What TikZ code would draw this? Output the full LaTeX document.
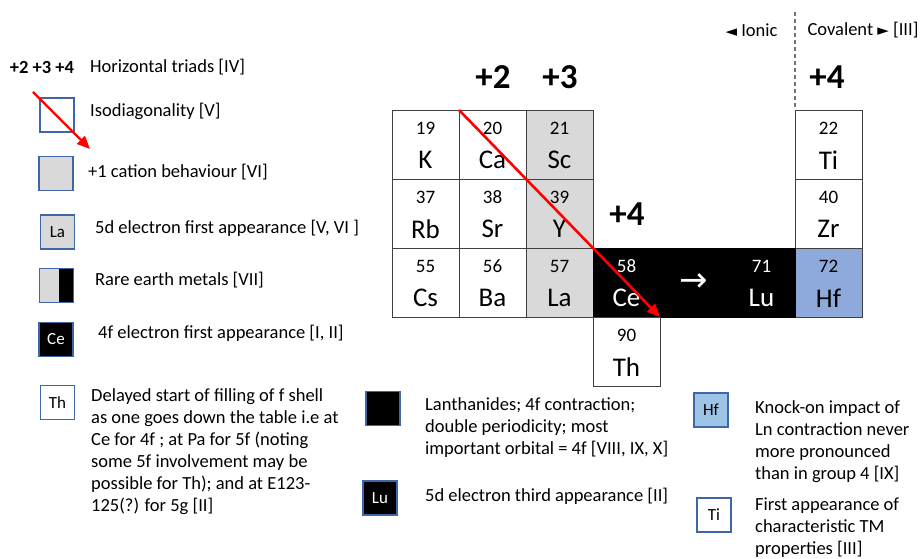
\documentclass[tikz,border=0pt]{standalone}
\usepackage{fontspec}
\setmainfont{Carlito}
\newfontfamily\dejavu{DejaVu Sans}
\usetikzlibrary{arrows.meta}
\definecolor{keyblue}{HTML}{3F66A6}
\definecolor{hfblue}{HTML}{8EA9DB}
\definecolor{hfkey}{HTML}{9DC3E6}
\definecolor{rarefill}{HTML}{D9D9D9}
\tikzset{
  cell/.style={draw=black!75, minimum width=67pt, minimum height=69pt, inner sep=0pt, outer sep=0pt},
  num/.style={font=\fontsize{19}{19}\selectfont, inner sep=0pt},
  sym/.style={font=\fontsize{27}{27}\selectfont, inner sep=0pt},
  ox/.style={font=\bfseries\fontsize{35}{35}\selectfont},
  key/.style={draw=keyblue, line width=1.2pt, minimum width=34pt, minimum height=34pt, inner sep=0pt, font=\fontsize{17}{17}\selectfont},
  legtext/.style={anchor=west, inner sep=0pt, font=\fontsize{18.5}{22}\selectfont, align=left},
  legpara/.style={anchor=north west, inner sep=0pt, font=\fontsize{18.5}{22}\selectfont, align=left},
  redarrow/.style={draw=red, line width=2.6pt, -{Triangle[length=13pt,width=11pt]}}
}
\begin{document}
\begin{tikzpicture}[x=1pt,y=-1pt]
\useasboundingbox (0,0) rectangle (921,559);
%Table cells
\foreach \n/\x/\y/\z/\s/\f in {K/425.5/144.5/19/K/white, Ca/492.5/144.5/20/Ca/white,
    Sc/559.5/144.5/21/Sc/rarefill, Rb/425.5/213.5/37/Rb/white, Sr/492.5/213.5/38/Sr/white,
    Y/559.5/213.5/39/Y/rarefill, Cs/425.5/282.5/55/Cs/white, Ba/492.5/282.5/56/Ba/white,
    La/559.5/282.5/57/La/rarefill, Th/626.5/351.5/90/Th/white, Ti/828.5/144.5/22/Ti/white,
    Zr/828.5/213.5/40/Zr/white, Hf/828.5/282.5/72/Hf/hfblue} {
  \node[cell, fill=\f] (\n) at (\x,\y) {};
  \node[num] (\n-z) at ([yshift=-18pt]\n.north) {\z};
  \node[sym] (\n-s) at ([yshift=-50pt]\n.north) {\s};
}
%Lanthanide band
\node[cell, fill=black, draw=black, text=white] (to) at (694,282.5) {\dejavu\fontsize{34}{34}\selectfont →};
\foreach \n/\x/\z in {Ce/626.5/58, Lu/761.5/71} {
  \node[cell, fill=black, draw=black] (\n) at (\x,282.5) {};
  \node[num, text=white] (\n-z) at ([yshift=-18pt]\n.north) {\z};
  \node[sym, text=white] (\n-s) at ([yshift=-50pt]\n.north) {\n};
}
\draw[black!75] (Th.north west) rectangle (Th.south east);
%Oxidation states
\node[ox] (p2) at (493,77) {+2};
\node[ox] (p3) at (560,77) {+3};
\node[ox] (p4a) at (627,214) {+4};
\node[ox] (p4b) at (827,77) {+4};
%Ionic / covalent
\coordinate (dtop) at (795,12);
\draw[black!55, line width=1.3pt, dash pattern=on 4pt off 3pt] (dtop) -- (Ti.north west);
\node[anchor=east, font=\fontsize{18.5}{18.5}\selectfont] (ionic) at (781,30) {{\dejavu\fontsize{15}{15}\selectfont ◄} Ionic};
\node[anchor=west, font=\fontsize{18.5}{18.5}\selectfont] (cov) at (804,30) {Covalent {\dejavu\fontsize{15}{15}\selectfont ►} [III]};
%Isodiagonal arrow
\draw[redarrow] (Ca.north west) -- (Th.north east);
%Legend
\node[font=\bfseries\fontsize{18.5}{18.5}\selectfont] (trio) at (42,67) {+2 +3 +4};
\node[legtext] (trio-t) at (90,67) {Horizontal triads [IV]};
\node[key] (kIso) at (57,115) {};
\coordinate (kArrA) at (33,92);
\coordinate (kArrB) at (90,149);
\draw[redarrow, line width=2.4pt] (kArrA) -- (kArrB);
\node[legtext] (kIso-t) at (90,111) {Isodiagonality [V]};
\node[key, fill=rarefill] (kCat) at (56,173.5) {};
\node[legtext] (kCat-t) at (88,172) {+1 cation behaviour [VI]};
\node[key, fill=rarefill] (kLa) at (57.5,232) {La};
\node[legtext] (kLa-t) at (95,228) {5d electron first appearance [V, VI ]};
\node[key, fill=rarefill, path picture={\fill[black] ([xshift=2pt]path picture bounding box.north) rectangle (path picture bounding box.south east);}] (kRare) at (56.5,285.5) {};
\node[legtext] (kRare-t) at (95,280) {Rare earth metals [VII]};
\node[key, fill=black, text=white] (kCe) at (56,339.5) {Ce};
\node[legtext] (kCe-t) at (98,333) {4f electron first appearance [I, II]};
\node[key] (kTh) at (57.5,402.5) {Th};
\node[legpara] (kTh-t) at (91,388) {Delayed start of filling of f shell\\as one goes down the table i.e at\\Ce for 4f ; at Pa for 5f (noting\\some 5f involvement may be\\possible for Th); and at E123-\\125(?) for 5g [II]};
\node[key, fill=black] (kLan) at (383,408.5) {};
\node[legpara] (kLan-t) at (425,397) {Lanthanides; 4f contraction;\\double periodicity; most\\important orbital = 4f [VIII, IX, X]};
\node[key, fill=black, text=white] (kLu) at (380,498) {Lu};
\node[legtext] (kLu-t) at (425,496) {5d electron third appearance [II]};
\node[key, fill=hfkey] (kHf) at (711,410) {Hf};
\node[legpara] (kHf-t) at (755,400) {Knock-on impact of\\Ln contraction never\\more pronounced\\than in group 4 [IX]};
\node[key] (kTi) at (714,515) {Ti};
\node[legpara] (kTi-t) at (755,498) {First appearance of\\characteristic TM\\properties [III]};
\end{tikzpicture}
\end{document}
